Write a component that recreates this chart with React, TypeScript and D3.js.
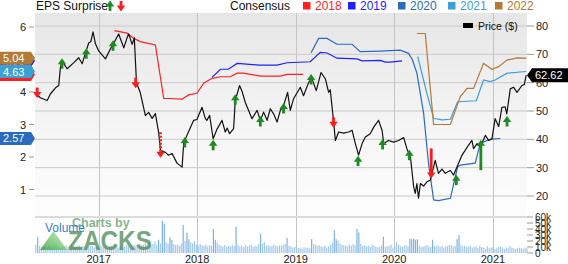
import React from "react";
import * as d3 from "d3";

const W = 568;
const H = 264;
const FONT = "'Liberation Sans', Arial, sans-serif";

// ---- Price (right axis, $) ----
const priceDates = [
  "2016-05-12","2016-05-30","2016-06-24","2016-07-06","2016-07-25","2016-08-06","2016-08-12","2016-08-18",
  "2016-09-06","2016-09-30","2016-10-19","2016-11-01","2016-11-13","2016-11-25","2016-12-03","2016-12-11",
  "2016-12-20","2017-01-01","2017-01-26","2017-02-13","2017-02-26","2017-03-16","2017-04-04","2017-04-16",
  "2017-04-22","2017-05-05","2017-05-13","2017-05-21","2017-06-04","2017-06-23","2017-07-05","2017-07-18",
  "2017-07-30","2017-08-11","2017-08-18","2017-09-05","2017-09-17","2017-09-30","2017-10-18","2017-11-06",
  "2017-11-12","2017-11-24","2017-12-19","2017-12-31","2018-01-19","2018-01-31","2018-02-06","2018-02-16",
  "2018-03-01","2018-03-16","2018-04-03","2018-04-15","2018-04-22","2018-05-01","2018-05-16","2018-05-22",
  "2018-06-07","2018-06-16","2018-06-28","2018-07-23","2018-08-11","2018-08-23","2018-09-04","2018-09-17",
  "2018-09-29","2018-10-11","2018-10-24","2018-11-05","2018-11-17","2018-12-02","2018-12-12","2018-12-24",
  "2019-01-18","2019-01-30","2019-02-18","2019-03-02","2019-03-18","2019-04-05","2019-04-21","2019-05-03",
  "2019-05-09","2019-05-21","2019-05-28","2019-06-09","2019-06-27","2019-07-16","2019-07-29","2019-08-10",
  "2019-08-22","2019-09-04","2019-09-16","2019-10-04","2019-10-17","2019-11-04","2019-11-17","2019-11-23",
  "2019-12-11","2019-12-30","2020-01-17","2020-02-05","2020-02-17","2020-03-01","2020-03-13","2020-03-19",
  "2020-03-25","2020-03-31","2020-04-07","2020-04-19","2020-05-01","2020-05-14","2020-05-26","2020-06-01",
  "2020-06-13","2020-06-26","2020-07-08","2020-07-27","2020-08-08","2020-08-26","2020-09-08","2020-09-20",
  "2020-10-02","2020-10-15","2020-10-21","2020-11-03","2020-11-15","2020-12-04","2020-12-16","2020-12-28",
  "2021-01-09","2021-01-22","2021-02-03","2021-02-15","2021-02-21","2021-03-06","2021-03-18","2021-03-31",
  "2021-04-18","2021-04-27","2021-05-04"
];
const priceValues = [
  56.1,54.7,53.7,56.0,58.2,59.0,65.3,67.7,
  64.9,67.0,68.8,66.7,70.5,74.0,74.5,77.9,
  73.7,71.2,68.4,71.9,74.0,77.2,72.3,75.8,
  77.2,73.5,75.8,60.0,56.5,48.4,49.5,47.4,
  49.1,42.5,36.1,35.4,34.4,35.0,31.6,30.2,
  38.6,41.4,46.7,47.0,51.3,47.4,46.7,48.5,
  40.2,43.7,46.7,42.6,44.0,42.0,43.8,53.7,
  59.0,57.0,53.1,47.3,50.2,46.7,49.6,46.7,
  50.8,49.0,46.1,50.2,51.9,56.6,50.2,54.3,
  58.4,55.4,60.1,61.5,57.2,63.6,61.3,56.6,
  57.5,46.7,39.6,42.6,42.2,42.6,43.2,38.5,
  34.4,38.5,40.8,42.0,44.3,46.7,43.2,38.5,
  39.6,39.0,39.6,40.6,36.7,33.8,23.3,20.9,
  24.4,19.2,24.4,23.5,25.0,25.6,30.3,32.6,
  28.0,29.5,28.0,29.0,27.4,31.5,34.4,36.1,
  37.9,39.6,36.7,38.5,37.3,41.4,39.6,40.1,
  47.3,44.5,51.3,51.5,49.0,57.8,58.4,56.6,
  59.0,59.3,62.62
];
const lastPriceLabel = "62.62";

// ---- Consensus EPS estimates (left axis) ----
const cons2018Dates = ["2017-02-28","2017-04-16","2017-05-11","2017-06-04","2017-07-30","2017-08-30","2017-09-24","2017-11-06","2017-11-30","2017-12-31","2018-01-25","2018-02-25","2018-03-28","2018-05-04","2018-05-29","2018-06-21","2018-08-23","2018-11-05","2018-11-30","2019-01-28"];
const cons2018Values = [5.89,5.81,5.65,5.55,5.45,3.80,3.80,3.78,3.91,3.96,4.27,4.42,4.47,4.47,4.58,4.58,4.49,4.49,4.54,4.54];

const cons2019Dates = ["2018-02-25","2018-03-28","2018-04-26","2018-05-29","2018-08-17","2018-10-24","2018-11-30","2019-02-24","2019-04-02","2019-04-27","2019-06-03","2019-08-16","2019-09-04","2019-11-10","2019-11-29","2019-12-17","2020-01-30"];
const cons2019Values = [4.45,4.70,4.70,4.88,4.83,4.83,4.90,4.93,5.22,5.20,5.04,5.02,4.96,4.97,4.92,4.92,4.96];

const cons2020Dates = ["2019-02-27","2019-03-27","2019-04-27","2019-06-03","2019-07-29","2019-08-28","2019-11-10","2020-01-23","2020-02-23","2020-03-08","2020-03-25","2020-04-19","2020-05-07","2020-05-26","2020-06-13","2020-07-27","2020-08-23","2020-09-02","2020-10-27","2020-11-15","2020-12-22","2021-01-28"];
const cons2020Values = [5.21,5.65,5.65,5.47,5.47,5.24,5.26,5.29,5.19,5.00,4.58,3.34,1.81,0.68,0.66,0.73,1.70,1.75,1.81,2.42,2.55,2.57];

const cons2021Dates = ["2020-03-28","2020-05-01","2020-05-26","2020-06-26","2020-07-27","2020-08-23","2020-10-31","2020-11-27","2020-12-22","2021-01-09","2021-02-22","2021-05-04"];
const cons2021Values = [5.09,3.96,3.19,3.14,3.16,3.70,3.73,4.37,4.32,4.37,4.58,4.63];

const cons2022Dates = ["2020-03-25","2020-04-25","2020-05-26","2020-07-27","2020-09-02","2020-09-27","2020-10-21","2020-11-27","2020-12-28","2021-01-22","2021-02-22","2021-03-31","2021-05-04"];
const cons2022Values = [5.80,5.80,3.00,3.00,3.86,4.11,4.11,4.88,4.70,4.78,4.98,5.05,5.04];

const consYears = ["2018", "2019", "2020", "2021", "2022"];
const consColors = ["#ff1f1f", "#1f1fff", "#2a6bc0", "#3aa0d6", "#b37a36"];

// ---- EPS surprise events ----
const eventDates = ["2016-05-18","2016-08-18","2016-11-16","2017-02-23","2017-05-18","2017-08-18","2017-11-16","2018-03-01","2018-05-22","2018-08-23","2018-11-17","2019-02-27","2019-05-21","2019-08-20","2019-11-19","2020-02-26","2020-05-17","2020-08-18","2020-11-17","2021-02-22"];
const eventDirections = ["down","up","up","up","down","down","up","up","up","up","up","up","down","up","up","up","down","up","up","up"];
const eventPrices = [56.5,66.7,70.2,73.0,60.0,35.4,38.9,37.9,54.0,46.3,50.9,61.1,46.0,32.3,38.2,34.4,28.1,25.6,37.9,46.3];
const eventTailPrices = [null,null,null,null,null,42.5,null,null,null,null,null,null,null,null,null,null,36.8,null,29.1,null];
const eventDashed = [false,false,false,false,false,true,false,false,false,false,false,false,false,false,false,false,false,false,false,false];

// ---- Weekly volume (thousands) ----
const volumeStart = "2016-05-13";
const volumeValues = [
  14,27,12,10,11,13,9,12,10,11,14,12,10,9,12,11,13,10,12,15,
  12,10,11,13,9,12,11,10,14,12,11,9,10,12,13,11,10,12,9,11,
  12,10,13,11,9,12,10,11,14,12,10,11,13,12,10,11,12,14,18,13,
  20,12,15,19,14,22,16,54,49,18,16,26,22,15,13,14,12,16,47,20,
  34,23,18,16,20,14,12,15,13,12,14,11,13,12,40,22,17,14,12,11,
  13,10,12,11,14,12,44,13,11,12,10,13,11,12,14,10,12,11,15,32,
  16,18,12,13,11,12,14,12,11,13,12,14,15,25,12,11,9,10,12,8,
  9,7,10,8,9,8,23,15,14,12,13,11,10,12,9,11,14,18,38,23,
  20,16,14,13,12,11,14,12,15,13,40,34,15,12,13,11,12,10,14,12,
  11,9,10,13,27,10,12,11,14,9,12,18,14,11,10,12,13,11,24,23,
  24,22,23,12,10,11,12,13,11,10,22,12,11,13,10,12,9,11,12,14,
  13,11,12,23,30,14,11,12,10,11,12,9,10,11,8,12,10,9,7,11,
  8,9,10,7,8,10,11,8,7,9,8,12,9,8,7,8,9,8,7,9,
  8
];

// ---- Axes ----
const priceTicks = [20, 30, 40, 50, 60, 70, 80];
const epsTicks = [1, 2, 3, 4, 5, 6];
const epsTickLabels = ["1", "2", "3", "4", "", "6"]; // "5" is hidden behind the badges
const volumeTicks = [0, 10, 20, 30, 40, 50, 60];
const yearTicks = ["2017", "2018", "2019", "2020", "2021"];
const xDomain = ["2016-05-10", "2021-05-07"];

const parse = d3.timeParse("%Y-%m-%d");

function Arrow({ cx, cy, dir, tailY, dashed }: any) {
  const color = dir === "up" ? "#1f8a1f" : "#ff1a1a";
  if (dir === "up") {
    const stemEnd = tailY != null ? tailY : cy + 5;
    return (
      <g>
        <rect x={cx - 1.4} y={cy} width={2.8} height={stemEnd - cy} fill={color} />
        <path d={`M${cx},${cy - 5.5} L${cx - 4.2},${cy + 0.5} L${cx + 4.2},${cy + 0.5} Z`} fill={color} />
      </g>
    );
  }
  const stemStart = tailY != null ? tailY : cy - 5;
  return (
    <g>
      {dashed ? (
        <line x1={cx} x2={cx} y1={stemStart} y2={cy} stroke={color} strokeWidth={2.8} strokeDasharray="2,1.5" />
      ) : (
        <rect x={cx - 1.4} y={stemStart} width={2.8} height={cy - stemStart} fill={color} />
      )}
      <path d={`M${cx},${cy + 5.5} L${cx - 4.2},${cy - 0.5} L${cx + 4.2},${cy - 0.5} Z`} fill={color} />
    </g>
  );
}

export default function App() {
  const left = 35;
  const right = 527;
  const top = 13;
  const mainBottom = 216;
  const volBottom = 253;

  const x = d3.scaleTime().domain(xDomain.map((d) => parse(d) as Date)).range([left, right]);
  const yP = d3.scaleLinear().domain([20, 80]).range([196, 26]);
  const yE = d3.scaleLinear().domain([0, 6]).range([222, 27]);
  const yV = d3.scaleLinear().domain([0, 60]).range([volBottom, 217]);

  const pricePts = priceDates.map((d, i) => [parse(d) as Date, priceValues[i]] as [Date, number]);
  const priceLine = d3
    .line<[Date, number]>()
    .x((d) => x(d[0]))
    .y((d) => yP(d[1]));

  const consLine = d3
    .line<[Date, number]>()
    .x((d) => x(d[0]))
    .y((d) => yE(d[1]));

  const consData = [
    [cons2018Dates, cons2018Values],
    [cons2019Dates, cons2019Values],
    [cons2020Dates, cons2020Values],
    [cons2021Dates, cons2021Values],
    [cons2022Dates, cons2022Values],
  ].map(([ds, vs]: any) => ds.map((d: string, i: number) => [parse(d) as Date, vs[i]] as [Date, number]));

  const volStart = parse(volumeStart) as Date;
  const volBars = volumeValues.map((v, i) => ({ date: d3.timeWeek.offset(volStart, i), v }));

  // badge draw order: 2018, 2019, 2020, 2022, 2021
  const badgeOrder = [0, 1, 2, 4, 3];

  const lastPrice = priceValues[priceValues.length - 1];
  const lpY = yP(lastPrice);

  return (
    <svg
      width={W}
      height={H}
      viewBox={`0 0 ${W} ${H}`}
      style={{ position: "absolute", left: 0, top: 0, background: "#fff", fontFamily: FONT }}
    >
      <defs>
        <linearGradient id="bg" x1="0" y1="0" x2="0" y2="1">
          <stop offset="0" stopColor="#e6e6e6" />
          <stop offset="0.6" stopColor="#f6f6f6" />
          <stop offset="1" stopColor="#fdfdfd" />
        </linearGradient>
        <linearGradient id="tri" x1="0" y1="1" x2="1" y2="0">
          <stop offset="0" stopColor="#2f9a3c" />
          <stop offset="0.5" stopColor="#6cc46a" />
          <stop offset="1" stopColor="#b6e6ae" />
        </linearGradient>
      </defs>

      <rect x={0} y={0} width={W} height={H} fill="#fff" />
      <rect x={left} y={top} width={right - left} height={mainBottom - top} fill="url(#bg)" />

      {/* horizontal grid (price) */}
      {priceTicks.map((t) => (
        <line key={"hg" + t} x1={left} x2={right} y1={yP(t)} y2={yP(t)} stroke="#c9c9c9" strokeWidth={1} />
      ))}
      {/* vertical grid */}
      {yearTicks.map((yr) => {
        const xx = Math.round(x(parse(yr + "-01-01") as Date)) + 0.5;
        return <line key={"vg" + yr} x1={xx} x2={xx} y1={top} y2={volBottom} stroke="#c4c4c4" strokeWidth={1} />;
      })}
      {/* volume panel divider */}
      <line x1={left} x2={right} y1={217} y2={217} stroke="#dcdcdc" strokeWidth={2} />

      {/* volume bars */}
      {volBars.map((b, i) => (
        <rect
          key={"v" + i}
          x={x(b.date) - 0.6}
          y={yV(b.v)}
          width={1.2}
          height={volBottom - yV(b.v)}
          fill={b.v > 20 ? "#7fb2e3" : "#a5c9ec"}
        />
      ))}

      {/* Zacks watermark */}
      <g opacity={0.75}>
        <path d="M40,250 L53.5,231 L67,250 Z" fill="url(#tri)" />
        <text x={72} y={227} fontSize={12.5} fontWeight="bold" fill="#5f9e66">
          Charts by
        </text>
        <text x={68} y={250} fontSize={27} fontWeight="bold" fill="#4a8a55" textLength={84} lengthAdjust="spacingAndGlyphs">
          ZACKS
        </text>
      </g>
      <text x={45} y={232} fontSize={12} fill="#3a80c8">
        Volume
      </text>

      {/* consensus lines */}
      {consData.map((pts, i) => (
        <path key={"c" + i} d={consLine(pts) || ""} fill="none" stroke={consColors[i]} strokeWidth={1.2} />
      ))}

      {/* price line */}
      <path d={priceLine(pricePts) || ""} fill="none" stroke="#111" strokeWidth={1.2} strokeLinejoin="round" />

      {/* EPS surprise arrows */}
      {eventDates.map((d, i) => (
        <Arrow
          key={"e" + i}
          cx={x(parse(d) as Date)}
          cy={yP(eventPrices[i])}
          dir={eventDirections[i]}
          tailY={eventTailPrices[i] != null ? yP(eventTailPrices[i] as number) : null}
          dashed={eventDashed[i]}
        />
      ))}

      {/* left EPS axis */}
      {epsTicks.map((t, i) => (
        <g key={"et" + t}>
          <line x1={29} x2={34} y1={yE(t)} y2={yE(t)} stroke="#999" strokeWidth={1} />
          {epsTickLabels[i] && (
            <text x={26} y={yE(t) + 4} fontSize={11} textAnchor="end" fill="#222">
              {epsTickLabels[i]}
            </text>
          )}
        </g>
      ))}

      {/* left badges for last consensus values */}
      {badgeOrder.map((i) => {
        const vals = consData[i];
        const v = vals[vals.length - 1][1];
        const cy = yE(v);
        return (
          <g key={"b" + i}>
            <path d={`M0,${cy - 6.5} L31,${cy - 6.5} L35,${cy} L31,${cy + 6.5} L0,${cy + 6.5} Z`} fill={consColors[i]} />
            <text x={3} y={cy + 4} fontSize={11} fill="#fff">
              {v.toFixed(2)}
            </text>
          </g>
        );
      })}

      {/* right price axis */}
      {priceTicks.map((t) => (
        <g key={"pt" + t}>
          <line x1={right} x2={534} y1={yP(t)} y2={yP(t)} stroke="#999" strokeWidth={1} />
          <text x={536} y={yP(t) + 4} fontSize={11} fill="#222">
            {t}
          </text>
        </g>
      ))}
      {/* volume axis */}
      {volumeTicks.map((t) => (
        <g key={"vt" + t}>
          <line x1={right} x2={533} y1={yV(t)} y2={yV(t)} stroke="#999" strokeWidth={1} />
          <text x={535} y={yV(t) + 3.5} fontSize={10} fill="#222">
            {t === 0 ? "0" : t + "k"}
          </text>
        </g>
      ))}

      {/* last price badge */}
      <path d={`M${right},${lpY} L${right + 5},${lpY - 7} L${W},${lpY - 7} L${W},${lpY + 7} L${right + 5},${lpY + 7} Z`} fill="#000" />
      <text x={535} y={lpY + 4} fontSize={11} fill="#fff">
        {lastPriceLabel}
      </text>

      {/* x axis year labels */}
      {yearTicks.map((yr) => (
        <text key={"yl" + yr} x={x(parse(yr + "-01-01") as Date)} y={263} fontSize={11} textAnchor="middle" fill="#222">
          {yr}
        </text>
      ))}

      {/* legend: EPS surprise */}
      <text x={36} y={10} fontSize={12} fill="#111">
        EPS Surprise
      </text>
      <Arrow cx={110} cy={6} dir="up" tailY={null} dashed={false} />
      <Arrow cx={121} cy={6} dir="down" tailY={null} dashed={false} />

      {/* legend: consensus */}
      <text x={230} y={10} fontSize={12} fill="#111">
        Consensus
      </text>
      {consYears.map((yr, i) => {
        const sx = [303, 348, 398, 448, 495][i];
        return (
          <g key={"lg" + yr}>
            <rect x={sx} y={2} width={7.5} height={7.5} fill={consColors[i]} />
            <text x={sx + 12} y={10} fontSize={12} fill={consColors[i]}>
              {yr}
            </text>
          </g>
        );
      })}

      {/* legend: price */}
      <rect x={463} y={23} width={10} height={5} fill="#000" />
      <text x={478} y={30} fontSize={10.5} fill="#111">
        Price ($)
      </text>
    </svg>
  );
}
